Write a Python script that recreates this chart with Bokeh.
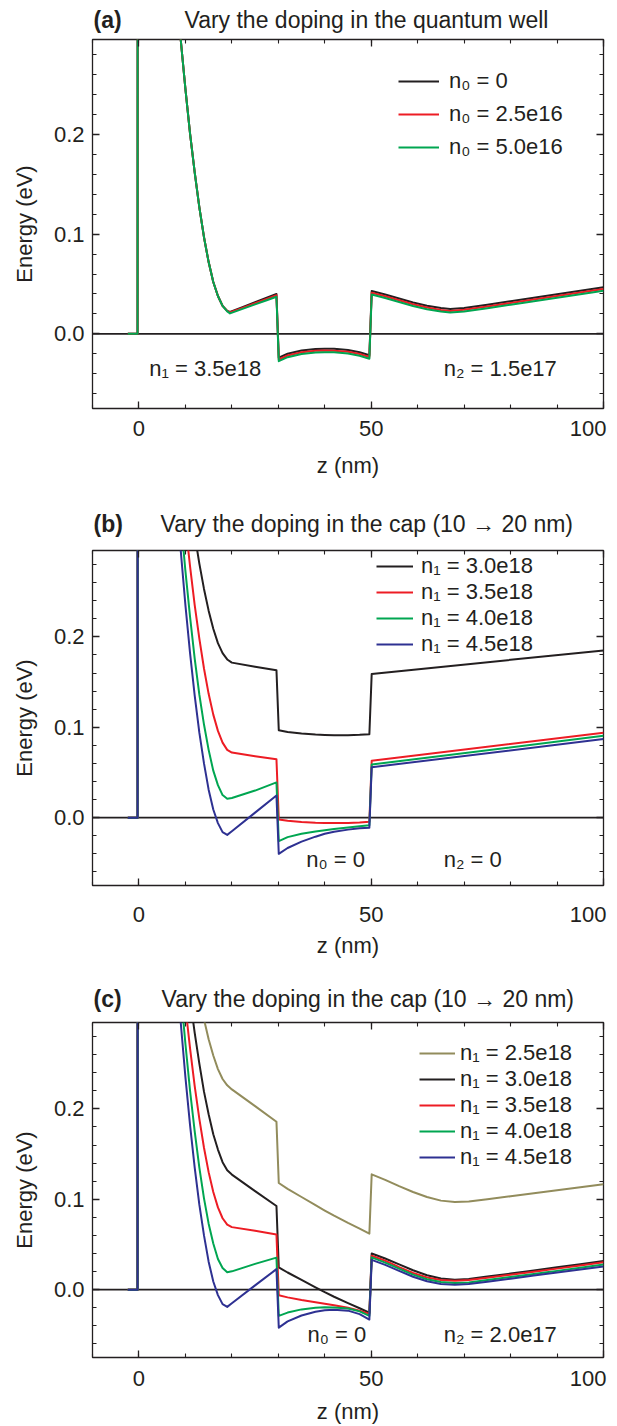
from bokeh.plotting import figure
from bokeh.models import (Range1d, LinearAxis, SingleIntervalTicker, PrintfTickFormatter,
                          Span, Label, Legend, LegendItem)
from bokeh.core.properties import value
from bokeh.layouts import column
from bokeh.embed import file_html
from bokeh.resources import INLINE

FONT = "Liberation Sans"
INK = "#231f20"
RED = "#ed1c24"
GREEN = "#00a651"
BLUE = "#2e3192"
OLIVE = "#928c5c"

XMIN, XMAX = -10, 100
YMIN, YMAX = -0.075, 0.2955
ZERO_LEVEL = 0.0

# ---------------- data: panel (a) ----------------
Z_A = [-2.4, -0.3, -0.25, 5, 8, 9, 10, 11, 12, 13, 14, 15, 16, 17, 18, 19, 19.6,
       22, 25, 27.5, 29.6, 30.1, 32, 35, 38, 40, 42, 45, 47.5, 49.6, 50.1,
       53, 56, 59, 62, 65, 67, 70, 75, 80, 85, 90, 95, 100]
E_A_N0_0 = [0, 0, 0.9, 0.543, 0.350, 0.295, 0.246, 0.201, 0.162, 0.127, 0.097, 0.072, 0.052, 0.038, 0.028, 0.023, 0.022,
            0.0263, 0.0317, 0.0362, 0.0400, -0.0240, -0.0200, -0.0168, -0.0152, -0.0149, -0.0151, -0.0162, -0.0185, -0.0215, 0.0430,
            0.0395, 0.0355, 0.0315, 0.0282, 0.0258, 0.0248, 0.0260, 0.0292, 0.0327, 0.0362, 0.0397, 0.0432, 0.0467]
E_A_N0_25 = [0, 0, 0.9, 0.543, 0.350, 0.295, 0.246, 0.201, 0.162, 0.127, 0.097, 0.072, 0.052, 0.038, 0.028, 0.023, 0.0215,
             0.0255, 0.0307, 0.0350, 0.0388, -0.0258, -0.0218, -0.0186, -0.0170, -0.0167, -0.0169, -0.0180, -0.0203, -0.0233, 0.0412,
             0.0377, 0.0337, 0.0297, 0.0264, 0.0240, 0.0230, 0.0242, 0.0274, 0.0309, 0.0344, 0.0379, 0.0414, 0.0449]
E_A_N0_50 = [0, 0, 0.9, 0.543, 0.350, 0.295, 0.246, 0.201, 0.162, 0.127, 0.097, 0.072, 0.052, 0.038, 0.028, 0.0225, 0.0205,
             0.0245, 0.0295, 0.0337, 0.0372, -0.0275, -0.0235, -0.0203, -0.0187, -0.0184, -0.0186, -0.0197, -0.0220, -0.0250, 0.0395,
             0.0360, 0.0320, 0.0280, 0.0247, 0.0223, 0.0213, 0.0225, 0.0257, 0.0292, 0.0327, 0.0362, 0.0397, 0.0432]
LABELS_A = ["n\u2080 = 0", "n\u2080 = 2.5e16", "n\u2080 = 5.0e16"]

# ---------------- data: panel (b) ----------------
Z_B = [-2.4, -0.3, -0.25, 5, 8, 9, 10, 11, 12, 13, 14, 15, 16, 17, 18, 19, 20,
       25, 29.6, 30.1, 32, 35, 38, 40, 42, 45, 47.5, 49.6, 50.1, 100]
E_B_N1_30 = [0, 0, 0.9, 0.658, 0.485, 0.436, 0.391, 0.350, 0.313, 0.281, 0.253, 0.229, 0.209, 0.193, 0.182, 0.175, 0.1715,
             0.167, 0.163, 0.0967, 0.0948, 0.0932, 0.0920, 0.0915, 0.0912, 0.0913, 0.0916, 0.0922, 0.159, 0.185]
E_B_N1_35 = [0, 0, 0.9, 0.635, 0.434, 0.377, 0.325, 0.278, 0.235, 0.198, 0.165, 0.137, 0.114, 0.096, 0.083, 0.075, 0.072,
             0.068, 0.0646, -0.002, -0.0035, -0.0048, -0.0056, -0.0059, -0.0060, -0.0058, -0.0053, -0.0045, 0.063, 0.094]
E_B_N1_40 = [0, 0, 0.9, 0.618, 0.393, 0.330, 0.273, 0.222, 0.176, 0.136, 0.103, 0.075, 0.052, 0.036, 0.025, 0.021, 0.0218,
             0.030, 0.039, -0.026, -0.0215, -0.0178, -0.0152, -0.0139, -0.0125, -0.0108, -0.0094, -0.0083, 0.0588, 0.0905]
E_B_N1_45 = [0, 0, 0.9, 0.596, 0.361, 0.295, 0.235, 0.182, 0.135, 0.094, 0.060, 0.031, 0.009, -0.006, -0.016, -0.019, -0.015,
             0.0056, 0.0245, -0.040, -0.0335, -0.0265, -0.021, -0.0178, -0.0155, -0.0132, -0.0118, -0.011, 0.0558, 0.0869]
LABELS_B = ["n\u2081 = 3.0e18", "n\u2081 = 3.5e18", "n\u2081 = 4.0e18", "n\u2081 = 4.5e18"]

# ---------------- data: panel (c) ----------------
Z_C = [-2.4, -0.3, -0.25, 5, 8, 9, 10, 11, 12, 13, 14, 15, 16, 17, 18, 19, 20,
       25, 29.6, 30.1, 32, 35, 38, 40, 42, 45, 47.5, 49.6, 50.1,
       53, 56, 59, 62, 65, 68, 71, 75, 80, 85, 90, 95, 100]
E_C_N1_25 = [0, 0, 0.9, 0.650, 0.501, 0.459, 0.420, 0.384, 0.352, 0.324, 0.299, 0.277, 0.259, 0.244, 0.233, 0.226, 0.2215,
             0.203, 0.1857, 0.118, 0.1115, 0.1025, 0.0935, 0.0875, 0.0818, 0.0738, 0.0675, 0.062, 0.1276,
             0.1215, 0.1145, 0.108, 0.1025, 0.0985, 0.097, 0.0975, 0.1, 0.1033, 0.1067, 0.11, 0.1133, 0.1165]
E_C_N1_30 = [0, 0, 0.9, 0.641, 0.463, 0.412, 0.365, 0.322, 0.284, 0.250, 0.219, 0.194, 0.172, 0.155, 0.141, 0.132, 0.1273,
             0.109, 0.0925, 0.0246, 0.019, 0.0108, 0.0025, -0.0028, -0.0078, -0.0148, -0.0205, -0.0255, 0.040,
             0.0345, 0.028, 0.0215, 0.016, 0.0123, 0.011, 0.0118, 0.0145, 0.0178, 0.0212, 0.0247, 0.0282, 0.0318]
E_C_N1_35 = [0, 0, 0.9, 0.619, 0.421, 0.364, 0.313, 0.267, 0.225, 0.189, 0.157, 0.130, 0.108, 0.091, 0.079, 0.072, 0.0692,
             0.0651, 0.061, -0.0062, -0.0085, -0.0115, -0.0140, -0.0155, -0.0172, -0.0200, -0.0232, -0.0267, 0.0376,
             0.032, 0.025, 0.0185, 0.0135, 0.0108, 0.0099, 0.0106, 0.0132, 0.0165, 0.0199, 0.0233, 0.0268, 0.0304]
E_C_N1_40 = [0, 0, 0.9, 0.616, 0.392, 0.329, 0.272, 0.220, 0.175, 0.135, 0.101, 0.073, 0.051, 0.034, 0.024, 0.0193, 0.0203,
             0.0285, 0.0355, -0.029, -0.0253, -0.0218, -0.0200, -0.0195, -0.0196, -0.0208, -0.0240, -0.029, 0.0358,
             0.030, 0.0232, 0.0167, 0.0115, 0.0085, 0.0073, 0.008, 0.0106, 0.014, 0.0174, 0.0208, 0.0243, 0.0279]
E_C_N1_45 = [0, 0, 0.9, 0.596, 0.361, 0.295, 0.235, 0.182, 0.135, 0.094, 0.060, 0.031, 0.009, -0.006, -0.016, -0.019, -0.015,
             0.0048, 0.0227, -0.042, -0.035, -0.0285, -0.0245, -0.0228, -0.0222, -0.0232, -0.027, -0.033, 0.033,
             0.0275, 0.0208, 0.0143, 0.0093, 0.0064, 0.0055, 0.0062, 0.0088, 0.0122, 0.0156, 0.019, 0.0223, 0.0256]
LABELS_C = ["n\u2081 = 2.5e18", "n\u2081 = 3.0e18", "n\u2081 = 3.5e18", "n\u2081 = 4.0e18", "n\u2081 = 4.5e18"]

TITLE_TAGS = ["(a)", "(b)", "(c)"]
TITLES = ["Vary the doping in the quantum well",
          "Vary the doping in the cap (10 \u2192 20 nm)",
          "Vary the doping in the cap (10 \u2192 20 nm)"]
NOTES_A = [("n\u2081 = 3.5e18", 2.2, -0.035), ("n\u2082 = 1.5e17", 65.6, -0.035)]
NOTES_B = [("n\u2080 = 0", 36.0, -0.0457), ("n\u2082 = 0", 65.6, -0.0457)]
NOTES_C = [("n\u2080 = 0", 36.3, -0.0497), ("n\u2082 = 2.0e17", 65.6, -0.0497)]

FS = "22px"
TFS = "23px"
W = 617
BORDER_L, BORDER_R = 92, 14
FRAME_W = W - BORDER_L - BORDER_R


def style_axis(ax, labels=True):
    ax.axis_line_color = None
    ax.major_tick_in = 7
    ax.major_tick_out = 0
    ax.minor_tick_in = 4
    ax.minor_tick_out = 0
    ax.major_tick_line_color = INK
    ax.minor_tick_line_color = INK
    ax.major_tick_line_width = 1.3
    ax.minor_tick_line_width = 1.1
    ax.major_label_text_font = FONT
    if labels:
        ax.major_label_text_color = INK
        ax.major_label_text_font_size = FS
    else:
        ax.major_label_text_color = None
        ax.major_label_text_font_size = "1px"
        ax.major_label_standoff = 0
    ax.axis_label_text_font = FONT
    ax.axis_label_text_font_size = FS
    ax.axis_label_text_font_style = "normal"
    ax.axis_label_text_color = INK


def make_header(h, y_from_top, tag, title, title_x):
    # header strip: its frame is aligned with the plot frames below (x measured in px from frame left)
    hp = figure(width=W, height=h, x_range=Range1d(0, FRAME_W), y_range=Range1d(0, h),
                output_backend="svg", toolbar_location=None, x_axis_type=None, y_axis_type=None,
                min_border_left=BORDER_L, min_border_right=BORDER_R, min_border_top=0, min_border_bottom=0,
                outline_line_color=None)
    hp.background_fill_color = "white"
    hp.border_fill_color = "white"
    hp.text(x=[1], y=[h - y_from_top], text=[tag], text_font=value(FONT), text_font_size=TFS,
            text_font_style="bold", text_color=INK, text_baseline="middle", text_align="left")
    hp.text(x=[title_x], y=[h - y_from_top], text=[title], text_font=value(FONT), text_font_size=TFS,
            text_color=INK, text_baseline="middle", text_align="left")
    return hp


def make_panel(h, top, bottom, xstand, xlabstand, z, series, colors, labels, leg, notes):
    p = figure(width=W, height=h, x_range=Range1d(XMIN, XMAX), y_range=Range1d(YMIN, YMAX),
               output_backend="svg", toolbar_location=None,
               min_border_left=BORDER_L, min_border_right=BORDER_R, min_border_top=top, min_border_bottom=bottom,
               x_axis_label="z (nm)", y_axis_label="Energy (eV)")
    p.xgrid.visible = False
    p.ygrid.visible = False
    p.outline_line_color = INK
    p.outline_line_width = 1.3
    p.background_fill_color = "white"
    p.border_fill_color = "white"

    p.xaxis.ticker = SingleIntervalTicker(interval=50, num_minor_ticks=5)
    p.xaxis.major_label_overrides = {100: "100\u2002"}
    p.yaxis.ticker = SingleIntervalTicker(interval=0.1, num_minor_ticks=5)
    p.yaxis.formatter = PrintfTickFormatter(format="%.1f")
    for ax in p.xaxis:
        style_axis(ax)
        ax.major_label_standoff = xstand
        ax.axis_label_standoff = xlabstand
    for ax in p.yaxis:
        style_axis(ax)
        ax.major_label_standoff = 8
        ax.axis_label_standoff = 14

    top_ax = LinearAxis(ticker=SingleIntervalTicker(interval=50, num_minor_ticks=5))
    style_axis(top_ax, labels=False)
    p.add_layout(top_ax, "above")
    right_ax = LinearAxis(ticker=SingleIntervalTicker(interval=0.1, num_minor_ticks=5))
    style_axis(right_ax, labels=False)
    p.add_layout(right_ax, "right")

    p.add_layout(Span(location=ZERO_LEVEL, dimension="width", line_color=INK, line_width=1.8, level="underlay"))

    items = []
    for ys, c, lab in zip(series, colors, labels):
        r = p.line(z, ys, line_color=c, line_width=2.0, line_join="round")
        items.append(LegendItem(label=lab, renderers=[r]))

    lx, ly, gw, stand, spacing = leg
    legend = Legend(items=items, location=(lx, ly), glyph_width=gw, glyph_height=24, label_height=24,
                    label_standoff=stand, spacing=spacing, padding=0, margin=0,
                    border_line_color=None, background_fill_alpha=0,
                    label_text_font=FONT, label_text_font_size=FS, label_text_color=INK)
    p.add_layout(legend)

    for txt, x, y in notes:
        p.add_layout(Label(x=x, y=y, text=txt, text_font=FONT, text_font_size=FS, text_color=INK,
                           text_baseline="middle", text_align="left"))
    return p


ha = make_header(36, 19, TITLE_TAGS[0], TITLES[0], 92)
pa = make_panel(444, 3, 68, 7, 9, Z_A, [E_A_N0_0, E_A_N0_25, E_A_N0_50], [INK, RED, GREEN], LABELS_A,
                (306, 248, 41, 10, 7), NOTES_A)
hb = make_header(64, 43, TITLE_TAGS[1], TITLES[1], 68)
pb = make_panel(416, 6, 71, 16, 3, Z_B, [E_B_N1_30, E_B_N1_35, E_B_N1_40, E_B_N1_45], [INK, RED, GREEN, BLUE],
                LABELS_B, (284, 228, 37, 8, -1), NOTES_B)
hc = make_header(56, 38, TITLE_TAGS[2], TITLES[2], 69)
pc = make_panel(410, 6, 65, 8, 5, Z_C, [E_C_N1_25, E_C_N1_30, E_C_N1_35, E_C_N1_40, E_C_N1_45],
                [OLIVE, INK, RED, GREEN, BLUE], LABELS_C, (327, 187, 36, 5, 0), NOTES_C)

layout = column(ha, pa, hb, pb, hc, pc)
open("out.html", "w").write(file_html(layout, INLINE))
